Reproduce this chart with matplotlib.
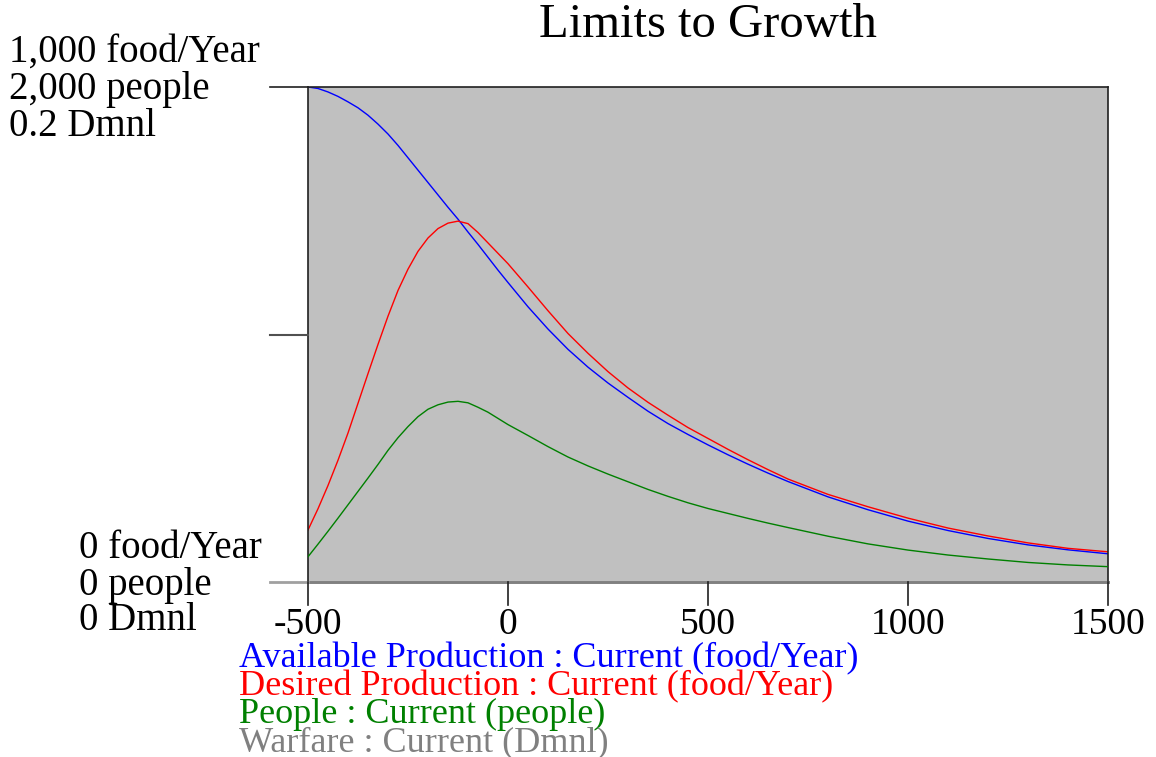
import matplotlib
matplotlib.use("Agg")
import matplotlib.pyplot as plt
from matplotlib.lines import Line2D

plt.rcParams['font.family'] = ['Liberation Serif', 'DejaVu Serif']

# time axis (Year) and series
years = [-500, -475, -450, -425, -400, -375, -350, -325, -300, -275, -250,
         -225, -200, -175, -150, -125, -100, -75, -50, -25, 0,
         50, 100, 150, 200, 250, 300, 350, 400, 450, 500, 550,
         600, 650, 700, 800, 900, 1000, 1100, 1200, 1300, 1400, 1500]
available = [1000, 997, 990, 981, 970, 958, 943, 925, 905, 882, 857,
             832, 807, 782, 757, 733, 707, 682, 656, 630, 605,
             556, 511, 470, 434, 402, 373, 345, 320, 298, 277, 257,
             238, 220, 203, 172, 146, 123, 104, 88, 75, 65, 57]
desired = [105, 148, 195, 246, 301, 361, 421, 480, 537, 589, 632,
           668, 695, 714, 725, 729, 724, 706, 685, 664, 643,
           596, 548, 502, 462, 425, 392, 363, 337, 312, 290, 268,
           247, 227, 208, 177, 152, 129, 109, 93, 79, 68, 61]
people = [102, 153, 205, 258, 312, 366, 420, 475, 532, 583, 628,
          668, 698, 716, 727, 730, 724, 706, 686, 661, 636,
          592, 547, 505, 469, 436, 405, 374, 346, 320, 297, 277,
          257, 238, 220, 185, 154, 129, 109, 93, 79, 69, 62]
warfare = [0] * len(years)

x_ticks = [-500, 0, 500, 1000, 1500]
legend_lines = ["Available Production : Current (food/Year)",
                "Desired Production : Current (food/Year)",
                "People : Current (people)",
                "Warfare : Current (Dmnl)"]
colors = ["#0000ff", "#ff0000", "#008000", "#808080"]

W, H = 1156, 757
fig = plt.figure(figsize=(W / 100, H / 100), dpi=100)
fig.patch.set_facecolor("white")


def fx(px):
    return px / W


def fy(py):
    return 1 - py / H


# plot area in pixels: x 308..1108, y 87..582
ax = fig.add_axes([fx(308), fy(582), fx(800), 495 / H])
ax.set_facecolor("#c0c0c0")
ax.set_xlim(-500, 1500)
ax.set_ylim(0, 1000)

ax_p = ax.twinx()   # people scale 0..2000
ax_p.set_ylim(0, 2000)
ax_w = ax.twinx()   # Dmnl scale 0..0.2
ax_w.set_ylim(0, 0.2)
for a in (ax_p, ax_w):
    a.set_xlim(-500, 1500)
    a.axis("off")

ax_w.plot(years, warfare, color=colors[3], lw=2.0, clip_on=False)
ax.plot(years, available, color=colors[0], lw=1.0)
ax.plot(years, desired, color=colors[1], lw=1.0)
ax_p.plot(years, people, color=colors[2], lw=1.0)

ax.set_xticks([])
ax.set_yticks([])
for s in ("top", "left", "right"):
    ax.spines[s].set_color("#202020")
    ax.spines[s].set_linewidth(1.2)
ax.spines["bottom"].set_color("#a0a0a0")
ax.spines["bottom"].set_linewidth(2.0)


# Vensim-style tick strokes drawn in figure pixels
def seg(x0, y0, x1, y1, c="#202020", lw=1.2):
    fig.add_artist(Line2D([fx(x0), fx(x1)], [fy(y0), fy(y1)], color=c, lw=lw,
                          transform=fig.transFigure))


seg(270, 87, 308, 87)
seg(270, 335, 308, 335, c="#505050", lw=1.5)
seg(270, 582, 308, 582, c="#a0a0a0", lw=2.0)
for t in x_ticks:
    px = 308 + (t + 500) * 0.4
    seg(px, 582, px, 605)
    fig.text(fx(px), fy(625), str(t), ha="center", va="center", fontsize=27)

fs = 28
fig.text(fx(708), fy(25), "Limits to Growth", ha="center", va="center", fontsize=35)
for i, s in enumerate(["1,000 food/Year", "2,000 people", "0.2 Dmnl"]):
    fig.text(fx(9), fy(52 + 37 * i), s, ha="left", va="center", fontsize=fs)
for i, s in enumerate(["0 food/Year", "0 people", "0 Dmnl"]):
    fig.text(fx(79), fy(549 + 36 * i), s, ha="left", va="center", fontsize=fs)

for i, (s, c) in enumerate(zip(legend_lines, colors)):
    fig.text(fx(239), fy(659 + 27.8 * i), s, ha="left", va="center",
             fontsize=26, color=c)

fig.savefig("out.png", dpi=100, facecolor="white")
